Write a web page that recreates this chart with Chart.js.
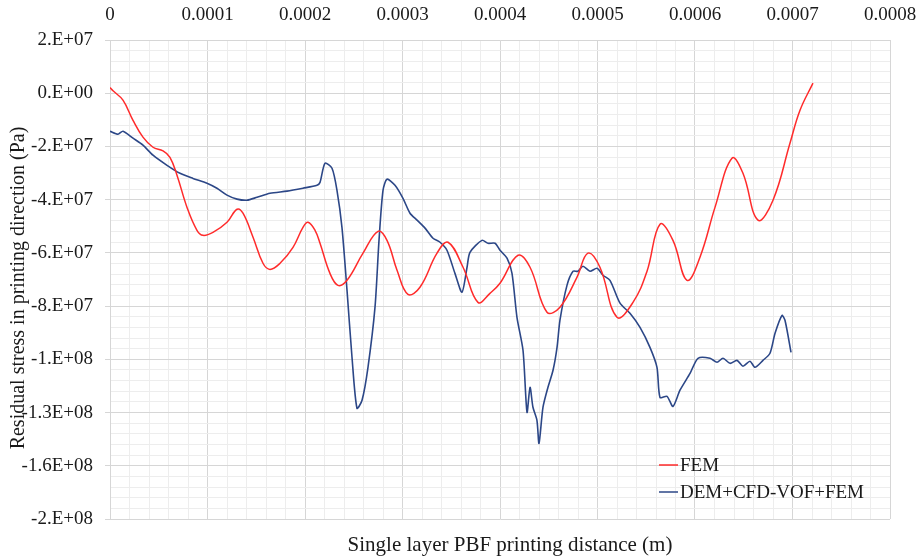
<!DOCTYPE html>
<html>
<head>
<meta charset="utf-8">
<script src="https://cdn.jsdelivr.net/npm/chart.js@4.4.1/dist/chart.umd.min.js"></script>
<style>
  html, body { margin: 0; padding: 0; background: #fff; }
  canvas { display: block; }
</style>
</head>
<body>
<canvas id="stressChart" width="919" height="558"></canvas>
<script>
// distance along the track in micrometres, stress in MPa
const femDist = [0, 3.1, 13.3, 23.6, 33.8, 44.1, 54.4, 61.5, 68.7, 79.0, 89.2, 95.4, 105.6, 120.0, 130.3,
    136.4, 146.7, 156.9, 164.1, 174.4, 187.7, 197.9, 203.1, 210.3, 215.4, 225.6, 233.8, 243.1, 259.5,
    274.9, 284.1, 294.4, 305.6, 317.9, 335.4, 346.7, 362.1, 377.4, 389.7, 400.0, 418.5, 430.8, 448.2,
    461.5, 478.9, 490.2, 502.5, 520.0, 536.4, 550.8, 564.1, 577.4, 591.8, 605.1, 620.5, 637.9, 649.2,
    664.6, 680.0, 697.4, 707.7, 721.0];
const femStress = [2.1, 0.9, -2.6, -10.2, -16.5, -20.3, -21.7, -24.1, -30.8, -42.9, -51.5, -53.4, -52.3,
    -48.5, -43.6, -45.1, -54.1, -63.9, -66.2, -63.9, -57.9, -50.4, -48.5, -51.5, -56.4, -67.7, -72.2,
    -70.3, -60.1, -51.9, -55.3, -66.5, -75.6, -72.9, -60.1, -56.0, -65.4, -78.6, -75.2, -71.4, -60.9,
    -65.4, -82.3, -80.4, -69.2, -60.1, -65.4, -84.2, -78.6, -66.9, -49.2, -55.3, -70.3, -61.6, -42.9,
    -24.4, -30.1, -47.7, -40.2, -18.8, -6.4, 3.8];

const demDist = [0, 8.2, 13.3, 23.6, 33.8, 44.1, 58.5, 71.8, 85.1, 99.5, 109.7, 120.0, 130.3, 140.5,
    150.8, 164.1, 181.5, 197.9, 212.3, 215.4, 220.5, 227.7, 232.8, 237.9, 243.1, 248.2, 253.3, 258.5,
    264.6, 271.8, 275.9, 280.0, 284.1, 292.3, 300.5, 307.7, 314.9, 323.1, 331.3, 338.5, 345.6, 353.8,
    361.0, 366.2, 369.2, 381.5, 387.7, 394.9, 400.0, 407.2, 412.3, 417.4, 423.6, 427.7, 430.8, 433.8,
    437.9, 440.0, 444.1, 449.2, 454.4, 458.5, 461.5, 468.7, 474.9, 480.0, 485.1, 492.3, 499.5, 505.6,
    512.8, 523.1, 533.3, 543.6, 553.8, 561.0, 564.1, 571.3, 577.4, 584.6, 594.9, 603.1, 615.4, 622.6,
    628.7, 635.9, 643.1, 649.2, 656.4, 661.5, 669.7, 676.9, 682.1, 689.2, 692.3, 698.5];
const demStress = [-14.3, -15.4, -14.3, -16.9, -19.5, -23.3, -27.1, -30.1, -32.0, -33.8, -35.7, -38.3,
    -39.8, -40.2, -39.1, -37.6, -36.8, -35.7, -34.6, -33.5, -26.3, -28.2, -36.5, -50.4, -74.1, -99.2,
    -118.4, -115.4, -103.0, -80.4, -55.3, -36.5, -32.3, -34.6, -39.5, -45.1, -47.7, -50.7, -54.5, -56.0,
    -59.0, -67.7, -74.8, -65.4, -59.8, -55.3, -56.4, -56.4, -59.0, -62.0, -67.7, -84.2, -96.6, -119.9,
    -110.5, -118.0, -122.9, -131.6, -118.0, -110.5, -104.1, -95.5, -85.3, -72.2, -66.9, -66.9, -65.0,
    -66.9, -65.8, -68.4, -70.3, -78.9, -82.7, -88.0, -95.5, -103.0, -114.3, -113.9, -117.7, -111.6,
    -105.3, -99.6, -99.6, -101.1, -99.6, -101.5, -100.4, -102.6, -100.7, -103.0, -100.4, -97.7, -90.2,
    -83.5, -85.3, -97.4];

const xTickLabels = ['0', '0.0001', '0.0002', '0.0003', '0.0004', '0.0005', '0.0006', '0.0007', '0.0008'];
// top to bottom, as printed on the figure
const yTickLabels = ['2.E+07', '0.E+00', '-2.E+07', '-4.E+07', '-6.E+07', '-8.E+07', '-1.E+08',
    '-1.3E+08', '-1.6E+08', '-2.E+08'];

const seriesNames = ['FEM', 'DEM+CFD-VOF+FEM'];
const seriesColors = ['#ff2b2b', '#2c4787'];
const xTitle = 'Single layer PBF printing distance (m)';
const yTitle = 'Residual stress in printing direction (Pa)';

const toPoints = (dist, stress) => dist.map((d, i) => ({ x: d / 1e6, y: stress[i] * 1e6 }));

const serif = '"Liberation Serif", "Times New Roman", serif';
const textColor = '#1a1a1a';
const majorGrid = '#d6d6d6';
const minorGrid = '#ededed';

// legend inside the plot area plus both axis titles, placed like the figure
const figureText = {
    id: 'figureText',
    afterDraw(chart) {
        const c = chart.ctx;
        const area = chart.chartArea;
        c.save();
        c.fillStyle = textColor;
        c.textBaseline = 'middle';

        const x0 = area.left + 549;
        const rows = [area.top + 425, area.top + 452];
        c.font = '19px ' + serif;
        c.textAlign = 'left';
        chart.data.datasets.forEach((ds, i) => {
            c.strokeStyle = ds.borderColor;
            c.lineWidth = 1.5;
            c.beginPath();
            c.moveTo(x0, rows[i]);
            c.lineTo(x0 + 19, rows[i]);
            c.stroke();
            c.fillText(ds.label, x0 + 21, rows[i] + 1);
        });

        c.textAlign = 'center';
        c.font = '21px ' + serif;
        c.fillText(xTitle, area.left + 400, area.bottom + 26);

        c.font = '20px ' + serif;
        c.translate(19, area.top + 248);
        c.rotate(-Math.PI / 2);
        c.fillText(yTitle, 0, 0);
        c.restore();
    },
};

const ctx = document.getElementById('stressChart').getContext('2d');
const chart = new Chart(ctx, {
    type: 'line',
    data: {
        datasets: [
            {
                label: seriesNames[0],
                data: toPoints(femDist, femStress),
                borderColor: seriesColors[0],
                borderWidth: 1.5,
                pointRadius: 0,
                tension: 0.4,
            },
            {
                label: seriesNames[1],
                data: toPoints(demDist, demStress),
                borderColor: seriesColors[1],
                borderWidth: 1.6,
                pointRadius: 0,
                tension: 0.25,
            },
        ],
    },
    options: {
        responsive: false,
        animation: false,
        devicePixelRatio: 1,
        layout: { padding: { left: 0, right: 29, top: 0, bottom: 39 } },
        scales: {
            x: {
                type: 'linear',
                position: 'top',
                min: 0,
                max: 0.0008,
                afterFit: (scale) => {
                    scale.height = 40;
                    scale.paddingLeft = 0;
                    scale.paddingRight = 0;
                },
                ticks: {
                    stepSize: 0.00002,
                    autoSkip: false,
                    maxRotation: 0,
                    padding: 9,
                    color: textColor,
                    font: { family: serif, size: 19 },
                    callback: (value, index) => (index % 5 === 0 ? xTickLabels[index / 5] : ''),
                },
                grid: {
                    color: (c) => (c.index % 5 === 0 ? majorGrid : minorGrid),
                    tickColor: 'rgba(0,0,0,0)',
                    tickLength: 5,
                },
                border: { color: majorGrid },
            },
            y: {
                type: 'linear',
                min: -1.6e8,
                max: 2e7,
                afterFit: (scale) => {
                    scale.width = 110;
                    scale.paddingTop = 0;
                    scale.paddingBottom = 0;
                },
                ticks: {
                    stepSize: 4e6,
                    maxTicksLimit: 100,
                    autoSkip: false,
                    padding: 12,
                    color: textColor,
                    font: { family: serif, size: 19 },
                    callback: (value, index) => (index % 5 === 0 ? yTickLabels[9 - index / 5] : ''),
                },
                grid: {
                    color: (c) => (c.index % 5 === 0 ? majorGrid : minorGrid),
                    tickColor: (c) => (c.index % 5 === 0 ? majorGrid : 'rgba(0,0,0,0)'),
                    tickLength: 5,
                },
                border: { color: majorGrid },
            },
        },
        plugins: {
            legend: { display: false },
            tooltip: { enabled: false },
        },
    },
    plugins: [figureText],
});
</script>
</body>
</html>
